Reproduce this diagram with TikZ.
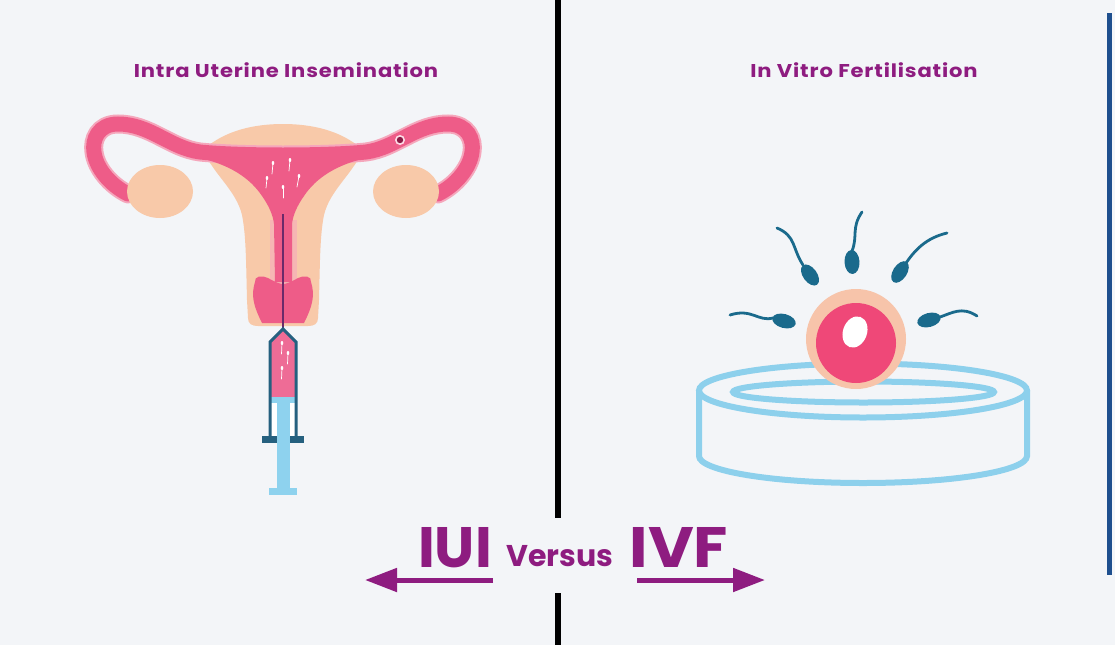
\documentclass[tikz,border=0pt]{standalone}
\usepackage{fontspec}
\newfontfamily\pop{Poppins}
\newfontfamily\popwide{Poppins}[LetterSpace=4]
\usetikzlibrary{arrows.meta}
\definecolor{bgc}{HTML}{F3F5F8}
\definecolor{pinkU}{HTML}{EE5C88}
\definecolor{peach}{HTML}{F8C9A9}
\definecolor{palepink}{HTML}{F5A7BC}
\definecolor{eggpink}{HTML}{EF4878}
\definecolor{eggpeach}{HTML}{F7C4AA}
\definecolor{spermteal}{HTML}{1A6A8C}
\definecolor{dishblue}{HTML}{8DD0EC}
\definecolor{syrteal}{HTML}{25607F}
\definecolor{syrblue}{HTML}{8ED2EE}
\definecolor{syrpink}{HTML}{EE6C96}
\definecolor{ttlpurple}{HTML}{8E1C80}
\definecolor{sideblue}{HTML}{1E4F8E}
\definecolor{cathpurple}{HTML}{6B2A6A}
\definecolor{ovum}{HTML}{8B1A45}
\begin{document}
\begin{tikzpicture}[x=1pt,y=-1pt,
  titletxt/.style={text=ttlpurple,inner sep=0pt,anchor=base,xscale=1.14,font=\popwide\bfseries\fontsize{18.5}{20}\selectfont},
  bigtxt/.style={text=ttlpurple,inner sep=0pt,anchor=base,font=\pop\bfseries\fontsize{57}{60}\selectfont},
  midtxt/.style={text=ttlpurple,inner sep=0pt,anchor=base,font=\pop\bfseries\fontsize{30}{32}\selectfont},
  divider/.style={line width=6.5pt,black},
  parrow/.style={ttlpurple,line width=5pt,-{Triangle[length=32pt,width=23pt]}},
  dishline/.style={dishblue,line width=6pt},
  tail/.style={spermteal,line width=2.8pt,line cap=round},
  wtail/.style={white,line width=0.7pt,line cap=round},
]
\useasboundingbox (0,0) rectangle (1115,645);
\fill[bgc] (0,0) rectangle (1115,645);

% dividing lines
\coordinate (dv0) at (558,0);
\coordinate (dv1) at (558,518);
\coordinate (dv2) at (558,593);
\coordinate (dv3) at (558,645);
\draw[divider] (dv0) -- (dv1);
\draw[divider] (dv2) -- (dv3);
\coordinate (sb0) at (1109.5,13);
\coordinate (sb1) at (1109.5,575);
\draw[sideblue,line width=5pt] (sb0) -- (sb1);

% titles
\node[titletxt] (titleL) at (286,77) {Intra Uterine Insemination};
\node[titletxt] (titleR) at (864,77) {In Vitro Fertilisation};

% ---------- uterus ----------
\fill[peach] (203,150) .. controls (225,130) and (255,124) .. (283,124)
  .. controls (311,124) and (341,130) .. (363,150)
  .. controls (352,175) and (330,190) .. (324,215)
  .. controls (320,235) and (320,260) .. (319,300) -- (318,318)
  .. controls (318,324) and (314,326) .. (308,326) -- (258,326)
  .. controls (252,326) and (248,324) .. (248,318) -- (247,300)
  .. controls (246,260) and (246,235) .. (242,215)
  .. controls (236,190) and (214,175) .. (203,150) -- cycle;
% pale lining of the canal
\fill[palepink!55!peach] (269.5,220) rectangle (296.5,284);
% tubes
\def\tubepath{(128,194) .. controls (110,185) and (96,168) .. (94,152)
  .. controls (92,140) and (98,124) .. (118,124)
  .. controls (150,124) and (170,148) .. (200,152)
  .. controls (240,156) and (326,156) .. (366,152)
  .. controls (396,148) and (416,124) .. (448,124)
  .. controls (468,124) and (474,140) .. (472,152)
  .. controls (470,168) and (456,185) .. (438,194)}
\draw[palepink,line width=19pt,line cap=round] \tubepath;
\draw[pinkU,line width=15pt,line cap=round] \tubepath;
% cavity and canal
\fill[pinkU] (200,146) .. controls (240,149) and (326,149) .. (366,146) -- (366,158)
  .. controls (336,165) and (316,178) .. (304,196)
  .. controls (297,206) and (293,215) .. (292,224) -- (292,282) -- (275,282) -- (274,224)
  .. controls (273,215) and (269,206) .. (262,196)
  .. controls (250,178) and (230,165) .. (200,158) -- cycle;
% cervix
\fill[pinkU] (255,282) .. controls (254,276) and (262,275) .. (268,278)
  .. controls (275,282) and (280,284) .. (283,284)
  .. controls (286,284) and (291,282) .. (298,278)
  .. controls (304,275) and (312,276) .. (311,282)
  .. controls (315,295) and (313,305) .. (304,323) -- (262,323)
  .. controls (253,305) and (251,295) .. (255,282) -- cycle;
% ovaries
\fill[peach] (160,191.5) ellipse (33 and 26.5);
\fill[peach] (406,191.5) ellipse (33 and 26.5);
% ovum in the tube
\fill[white!80!pinkU] (400,140) circle[radius=5];
\fill[ovum] (400,140) circle[radius=3.2];
% sperm in the uterus
\foreach \hx/\hy/\tx/\ty in {273/163/272/174, 290/160/289/171, 267/178/266/188, 299/176/297/187, 283/187/283/198}{
  \draw[wtail] (\hx,\hy) -- (\tx,\ty);
  \fill[white] (\hx,\hy) ellipse (1.3 and 2);
}
% catheter
\coordinate (cath0) at (283,214);
\coordinate (syrtip) at (283,329);
\draw[cathpurple,line width=2pt] (cath0) -- (syrtip);

% ---------- syringe ----------
\fill[syrpink] (270,397) -- (270,342) -- (283,329) -- (296,342) -- (296,397) -- cycle;
\fill[white] (270,397) rectangle (296,437);
\fill[syrblue] (270,397) rectangle (296,403);
\fill[syrteal] (262,436) rectangle (304,443);
\fill[syrblue] (277,397) rectangle (290,490);
\fill[syrblue] (269,488) rectangle (297,495);
\draw[syrteal,line width=3pt,line join=miter] (270,437) -- (270,342) -- (283,329) -- (296,342) -- (296,437);
\foreach \hx/\hy in {282/343, 288/353, 282/368}{
  \draw[wtail] (\hx,\hy) -- (\hx-0.5,\hy+11);
  \fill[white] (\hx,\hy) ellipse (1.3 and 2);
}

% ---------- petri dish ----------
\draw[dishline] (863,390.5) ellipse (164 and 27);
\draw[dishline] (863.5,392) ellipse (130.5 and 10.5);
\draw[dishline] (699,390.5) -- (699,456) arc (180:0:164 and 27) -- (1027,390.5);

% ---------- egg ----------
\fill[eggpeach] (856,339) circle[radius=50];
\fill[eggpink] (856,343) circle[radius=40];
\fill[white,rotate around={-20:(855,332)}] (855,332) ellipse (12 and 16);

% ---------- sperm around the egg ----------
\fill[spermteal,rotate around={-54:(810,275)}] (810,275) ellipse (12 and 7);
\draw[tail] (803,265) .. controls (792,248) and (796,236) .. (777,228);
\fill[spermteal,rotate around={-87:(852,262)}] (852,262) ellipse (12 and 7.5);
\draw[tail] (852,251) .. controls (858,236) and (851,228) .. (862,212);
\fill[spermteal,rotate around={-123:(900,272)}] (900,272) ellipse (12 and 7);
\draw[tail] (906,263) .. controls (915,250) and (926,238) .. (947,233);
\fill[spermteal,rotate around={-15:(784,321)}] (784,321) ellipse (12 and 7);
\draw[tail] (773,318) .. controls (758,322) and (752,308) .. (730,315);
\fill[spermteal,rotate around={-165:(929,320)}] (929,320) ellipse (12 and 7);
\draw[tail] (940,317) .. controls (952,313) and (962,306) .. (977,316);

% ---------- bottom caption ----------
\node[bigtxt] (iui) at (455,567) {IUI};
\node[midtxt] (versus) at (560,566) {Versus};
\node[bigtxt,xscale=1.1] (ivf) at (679,567) {IVF};
\coordinate (la0) at (493,580);
\coordinate (la1) at (365,580);
\coordinate (ra0) at (637,580);
\coordinate (ra1) at (765,580);
\draw[parrow] (la0) -- (la1);
\draw[parrow] (ra0) -- (ra1);
\end{tikzpicture}
\end{document}
